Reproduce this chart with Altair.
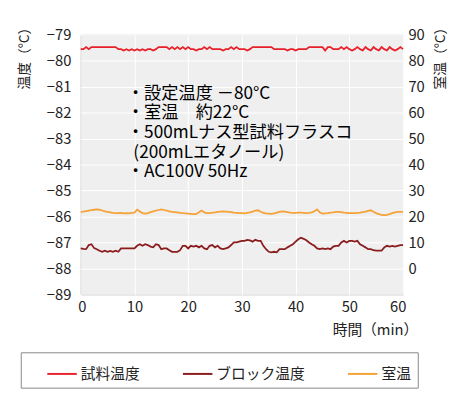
import altair as alt
import pandas as pd

# time axis (minutes), one reading every 0.5 min
time_min = [i * 0.5 for i in range(121)]

# 試料温度 (left axis, °C)
sample_temp = [
    -79.55, -79.55, -79.47, -79.55, -79.47, -79.47, -79.47, -79.47, -79.47, -79.47,
    -79.47, -79.47, -79.47, -79.47, -79.55, -79.55, -79.60, -79.55, -79.60, -79.55,
    -79.60, -79.55, -79.60, -79.55, -79.60, -79.55, -79.55, -79.60, -79.55, -79.47,
    -79.47, -79.47, -79.47, -79.55, -79.47, -79.55, -79.47, -79.55, -79.47, -79.55,
    -79.47, -79.55, -79.55, -79.60, -79.55, -79.55, -79.47, -79.55, -79.47, -79.55,
    -79.55, -79.55, -79.55, -79.60, -79.55, -79.55, -79.47, -79.55, -79.47, -79.55,
    -79.55, -79.55, -79.60, -79.55, -79.47, -79.47, -79.47, -79.47, -79.47, -79.47,
    -79.47, -79.47, -79.55, -79.55, -79.55, -79.55, -79.55, -79.60, -79.55, -79.55,
    -79.60, -79.55, -79.55, -79.55, -79.55, -79.47, -79.47, -79.47, -79.47, -79.47,
    -79.47, -79.60, -79.47, -79.47, -79.55, -79.55, -79.55, -79.47, -79.55, -79.47,
    -79.55, -79.60, -79.55, -79.47, -79.55, -79.60, -79.47, -79.55, -79.60, -79.47,
    -79.55, -79.60, -79.47, -79.55, -79.60, -79.47, -79.55, -79.60, -79.55, -79.47,
    -79.55,
]

# ブロック温度 (left axis, °C)
block_temp = [
    -87.23, -87.25, -87.26, -87.10, -87.07, -87.22, -87.26, -87.32, -87.36, -87.32,
    -87.36, -87.33, -87.36, -87.32, -87.36, -87.23, -87.23, -87.23, -87.23, -87.23,
    -87.23, -87.13, -87.07, -87.13, -87.07, -87.10, -87.16, -87.19, -87.07, -87.10,
    -87.26, -87.23, -87.23, -87.30, -87.36, -87.36, -87.36, -87.30, -87.13, -87.13,
    -87.23, -87.13, -87.16, -87.13, -87.19, -87.13, -87.23, -87.26, -87.13, -87.10,
    -87.19, -87.13, -87.23, -87.26, -87.23, -87.19, -87.10, -87.00, -87.00, -86.97,
    -86.94, -86.94, -86.90, -86.92, -86.97, -86.90, -86.94, -86.94, -87.13, -87.26,
    -87.36, -87.38, -87.36, -87.38, -87.26, -87.26, -87.26, -87.19, -87.13, -87.07,
    -86.97, -86.88, -86.82, -86.86, -86.92, -87.00, -87.07, -87.13, -87.23, -87.26,
    -87.23, -87.26, -87.23, -87.26, -87.16, -87.13, -87.13, -87.00, -86.94, -87.00,
    -86.94, -86.94, -86.97, -86.94, -87.07, -87.13, -87.19, -87.26, -87.26, -87.30,
    -87.32, -87.32, -87.32, -87.19, -87.13, -87.16, -87.13, -87.16, -87.13, -87.10,
    -87.10,
]

# 室温 (right axis, °C)
room_temp = [
    21.8, 21.9, 22.1, 22.3, 22.5, 22.6, 22.7, 22.6, 22.3, 22.0,
    21.8, 21.6, 21.4, 21.3, 21.3, 21.4, 21.2, 21.3, 21.2, 21.4,
    21.5, 22.6, 21.9, 21.3, 21.1, 21.3, 21.7, 22.0, 22.3, 22.5,
    22.7, 22.5, 22.3, 22.0, 21.8, 21.7, 21.6, 21.4, 21.3, 21.2,
    21.1, 21.0, 20.9, 20.9, 21.6, 22.3, 21.6, 21.3, 21.3, 21.5,
    21.6, 21.8, 21.9, 22.0, 21.9, 21.8, 21.7, 21.5, 21.4, 21.3,
    21.3, 21.2, 21.4, 21.6, 21.9, 22.3, 22.4, 21.8, 21.4, 21.2,
    21.1, 21.0, 21.2, 21.5, 21.8, 22.0, 21.9, 21.7, 21.5, 21.4,
    21.4, 21.5, 21.5, 21.4, 21.3, 21.4, 21.6, 22.0, 22.7, 21.6,
    21.1, 21.2, 21.3, 21.5, 21.6, 21.8, 21.8, 21.7, 21.5, 21.4,
    21.3, 21.3, 21.3, 21.4, 21.5, 21.7, 21.9, 22.2, 22.4, 21.8,
    21.3, 20.9, 20.6, 20.5, 20.6, 20.9, 21.3, 21.6, 21.8, 21.8,
    21.8,
]

series_names = ["試料温度", "ブロック温度", "室温"]
series_colors = ["#e8202a", "#8a1c1e", "#f5a236"]

left_ticks = list(range(-89, -78))
right_ticks = list(range(0, 91, 10))
x_ticks = list(range(0, 61, 10))

note_lines = ["・設定温度 －80°C", "・室温　約22°C", "・500mLナス型試料フラスコ",
              "(200mLエタノール)", "・AC100V 50Hz"]
note_time = [8.6, 8.6, 8.6, 9.8, 8.6]
note_value = [-81.27, -82.03, -82.79, -83.55, -84.30]

FONT = "Noto Sans CJK JP"

rows = []
for name, vals in zip(series_names, [sample_temp, block_temp, room_temp]):
    for t, v in zip(time_min, vals):
        rows.append({"time": t, "value": v, "series": name})
df = pd.DataFrame(rows)
notes = pd.DataFrame({"time": note_time, "value": note_value, "line": note_lines})

color = alt.Color(
    "series:N",
    sort=series_names,
    scale=alt.Scale(domain=series_names, range=series_colors),
    legend=alt.Legend(
        title=None, orient="none", legendX=-61, legendY=323, direction="horizontal",
        symbolType="stroke", symbolSize=900, symbolStrokeWidth=2,
        labelFont=FONT, labelFontSize=15, labelColor="#222", labelOffset=3,
        padding=6, strokeColor="#888", fillColor="white", columnPadding=22,
        symbolOffset=20,
    ),
)

x_enc = alt.X(
    "time:Q",
    scale=alt.Scale(domain=[0, 60], nice=False, zero=False),
    axis=alt.Axis(values=x_ticks, title="時間（min）", labelPadding=5,
                  labelFlush=True, labelFlushOffset=3, titleFontSize=15,
                  titleX=343, titleY=36, titleAlign="right", titleBaseline="middle"),
)

y_left = alt.Y(
    "value:Q",
    scale=alt.Scale(domain=[-89, -79], nice=False, zero=False),
    axis=alt.Axis(values=left_ticks, title="温度（°C）", labelPadding=10,
                  titleAngle=-90, titleX=-57, titleY=-15, titleAlign="right",
                  titleBaseline="middle"),
)

left_lines = alt.Chart(df).transform_filter(
    alt.FieldOneOfPredicate(field="series", oneOf=["試料温度", "ブロック温度"])
).mark_line(strokeWidth=1.8).encode(x=x_enc, y=y_left, color=color)

note_layer = alt.Chart(notes).mark_text(
    align="left", baseline="middle", fontSize=17.5, font=FONT, color="#000000"
).encode(x=x_enc, y=y_left, text="line:N")

right_line = alt.Chart(df).transform_filter(
    alt.FieldEqualPredicate(field="series", equal="室温")
).mark_line(strokeWidth=1.8).encode(
    x=x_enc,
    y=alt.Y(
        "value:Q",
        scale=alt.Scale(domain=[-10, 90], nice=False, zero=False),
        axis=alt.Axis(values=right_ticks, orient="right", title="室温（°C）", grid=False,
                      labelPadding=5, titleAngle=-90, titleX=38, titleY=-15,
                      titleAlign="right", titleBaseline="middle"),
    ),
    color=color,
)

chart = alt.layer(alt.layer(left_lines, note_layer), right_line).resolve_scale(
    y="independent"
).properties(
    width=328, height=264,
    autosize=alt.AutoSizeParams(type="none"),
    padding={"left": 74, "top": 24, "right": 60, "bottom": 94},
).configure_view(
    fill="#efefef", stroke="#9a9a9a", strokeWidth=1
).configure_axis(
    labelFont=FONT, labelFontSize=15, labelColor="#222",
    titleFont=FONT, titleFontSize=14, titleFontWeight="normal", titleColor="#222",
    gridColor="white", gridWidth=1, domain=False, ticks=False,
)

chart.save("out.html", embed_options={"renderer": "svg", "actions": False})
